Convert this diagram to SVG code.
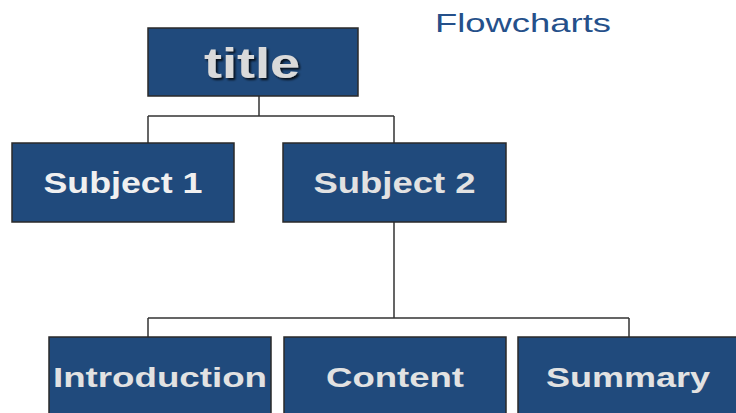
<svg xmlns="http://www.w3.org/2000/svg" width="736" height="413" viewBox="0 0 736 413">
<defs>
<style>
.box{fill:#204A7C;stroke:#2a2a2a;stroke-width:1.5}
.lbl{font-family:"Liberation Sans",Arial,sans-serif;font-weight:bold;fill:#E2E2E2;text-anchor:middle}
.conn{fill:none;stroke:#333;stroke-width:1.5}
</style>
<filter id="sh" x="-20%" y="-20%" width="140%" height="140%">
<feDropShadow dx="2" dy="2" stdDeviation="1.2" flood-color="#000" flood-opacity="0.8"/>
</filter>
</defs>
<rect width="736" height="413" fill="#fff"/>
<text x="435" y="32" font-family="Liberation Sans,Arial,sans-serif" font-size="25" fill="#25508A" textLength="176" lengthAdjust="spacingAndGlyphs">Flowcharts</text>
<g id="connectors">
<path class="conn" d="M259 96V116M148 116H394M148 116V143M394 116V143"/>
<path class="conn" d="M394 222V318M148 318H629M148 318V337M629 318V337"/>
</g>
<g id="title">
<rect class="box" x="148" y="28" width="210" height="68"/>
<text class="lbl" x="252" y="78" font-size="43" textLength="96" lengthAdjust="spacingAndGlyphs" filter="url(#sh)" style="fill:#DADADA">title</text>
</g>
<g id="subject1">
<rect class="box" x="12" y="143" width="222" height="79"/>
<text class="lbl" x="123" y="193" font-size="29" textLength="159" lengthAdjust="spacingAndGlyphs" style="fill:#F0F0F0">Subject 1</text>
</g>
<g id="subject2">
<rect class="box" x="283" y="143" width="223" height="79"/>
<text class="lbl" x="394.5" y="193" font-size="29" textLength="162" lengthAdjust="spacingAndGlyphs">Subject 2</text>
</g>
<g id="introduction">
<rect class="box" x="49" y="337" width="222" height="90"/>
<text class="lbl" x="160" y="387" font-size="28" textLength="214" lengthAdjust="spacingAndGlyphs">Introduction</text>
</g>
<g id="content">
<rect class="box" x="284" y="337" width="222" height="90"/>
<text class="lbl" x="395" y="387" font-size="28" textLength="138" lengthAdjust="spacingAndGlyphs">Content</text>
</g>
<g id="summary">
<rect class="box" x="518" y="337" width="223" height="90"/>
<text class="lbl" x="628" y="387" font-size="28" textLength="164" lengthAdjust="spacingAndGlyphs">Summary</text>
</g>
</svg>
